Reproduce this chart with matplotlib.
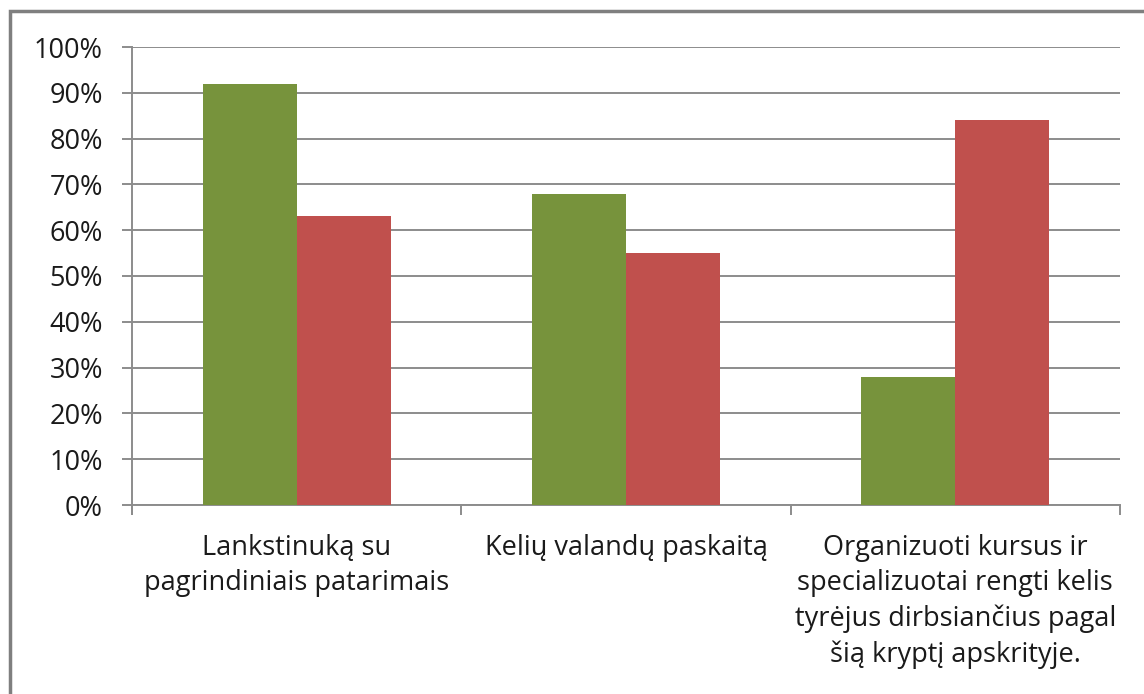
import numpy as np
import matplotlib.pyplot as plt
from matplotlib.patches import Rectangle
from matplotlib.ticker import FuncFormatter

categories = ["Lankstinuką su\npagrindiniais patarimais",
              "Kelių valandų paskaitą",
              "Organizuoti kursus ir\nspecializuotai rengti kelis\ntyrėjus dirbsiančius pagal\nšią kryptį apskrityje."]
green_vals = [0.92, 0.68, 0.28]
red_vals = [0.63, 0.55, 0.84]

plt.rcParams['font.family'] = ['Open Sans', 'DejaVu Sans']

W, H = 1144, 694
fig = plt.figure(figsize=(W / 100, H / 100), dpi=100)
ax = fig.add_axes([132 / W, 1 - 505 / H, (1120 - 132) / W, (505 - 47) / H])

x = np.arange(len(categories))
bw = 0.285
ax.bar(x - bw / 2, green_vals, bw, color="#77933C", zorder=3)
ax.bar(x + bw / 2, red_vals, bw, color="#C0504D", zorder=3)

grid_c = "#8c8c8c"
ax.set_ylim(0, 1)
ax.set_xlim(-0.5, 2.5)
ax.set_yticks(np.arange(0, 1.01, 0.1))
ax.yaxis.set_major_formatter(FuncFormatter(lambda v, p: "{:.0f}%".format(v * 100)))
ax.yaxis.grid(True, color=grid_c, linewidth=1.4, zorder=0)
ax.tick_params(axis='y', length=7, width=1.4, color=grid_c, labelsize=19.5, pad=14, labelcolor="#1a1a1a")

ax.set_xticks([-0.5, 0.5, 1.5, 2.5])
ax.set_xticklabels([])
ax.tick_params(axis='x', which='major', length=7, width=1.4, color=grid_c)
ax.set_xticks(x, minor=True)
ax.set_xticklabels(categories, minor=True, fontsize=19.5, linespacing=1.34, color="#1a1a1a")
ax.tick_params(axis='x', which='minor', length=0, pad=21)

for s in ["top", "right"]:
    ax.spines[s].set_visible(False)
for s in ["left", "bottom"]:
    ax.spines[s].set_color(grid_c)
    ax.spines[s].set_linewidth(1.4)
ax.spines["left"].set_bounds(-0.02, 1)

# outer frame (top and left edges visible)
fig.patches.append(Rectangle((10 / W, -0.1), 1.2, 1 - 11 / H + 0.1, transform=fig.transFigure,
                             fill=False, edgecolor="#7f7f7f", linewidth=2.5))

fig.savefig("out.png", dpi=100)
